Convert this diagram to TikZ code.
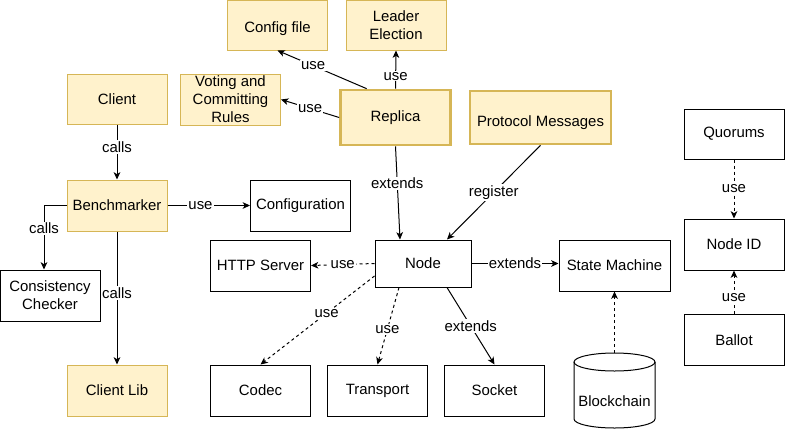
\documentclass[tikz,border=0pt]{standalone}
\usepackage{fontspec}
\setmainfont{Liberation Sans}
\usepackage{tikz}
\usetikzlibrary{arrows.meta, positioning, calc}
\definecolor{paxiFill}{HTML}{FFF2CC}
\definecolor{paxiLine}{HTML}{D6B656}

\begin{document}
\begin{tikzpicture}[x=0.75pt, y=-0.75pt,
    every node/.style={font=\fontsize{11.2}{13.5}\selectfont, align=center},
    module/.style={rectangle, draw=black, line width=0.75pt, fill=white,
                   minimum width=75pt, minimum height=38.25pt, inner sep=1pt},
    core/.style={module, draw=paxiLine, fill=paxiFill},
    corebold/.style={core, line width=2pt},
    link/.style={draw=black, line width=0.75pt, -{Stealth[length=5.5pt, width=5pt, inset=1.5pt]}},
    weak/.style={link, dash pattern=on 2.25pt off 2.25pt},
    tag/.style={fill=white, inner sep=1pt}]
\useasboundingbox (0,0) rectangle (785,429);

\node[core, minimum height=37.5pt, text height=11pt, text depth=0pt] (config) at (277.5,25) {Config file};
\node[core, minimum height=37.5pt] (leader) at (396,25) {Leader\\Election};
\node[core] (voting) at (230.5,99.5) {Voting and\\Committing\\Rules};
\node[corebold, minimum width=82.5pt, minimum height=41.25pt] (replica) at (395.5,117.5) {Replica};
\node[corebold, minimum width=105.75pt, minimum height=39.75pt, text height=13pt, text depth=0pt] (protocol) at (540.5,117.5) {Protocol Messages};
\node[core, minimum height=37.5pt] (client) at (117,99) {Client};
\node[core] (bench) at (117,205.5) {Benchmarker};
\node[module] (checker) at (50,295.5) {Consistency\\Checker};
\node[core] (clientlib) at (117,390.5) {Client Lib};
\node[module] (configuration) at (300.5,205.5) {Configuration};
\node[module] (http) at (260.5,265.5) {HTTP Server};
\node[module, minimum width=72pt, minimum height=35.25pt] (node) at (423,263.5) {Node};
\node[module] (codec) at (260.5,390.5) {Codec};
\node[module] (transport) at (377.5,390.5) {Transport};
\node[module] (socket) at (494.5,390.5) {Socket};
\node[module, minimum width=83.25pt] (machine) at (614.5,265.5) {State Machine};
\node[module, minimum height=37.5pt] (quorums) at (734,134) {Quorums};
\node[module] (nodeid) at (734,244.5) {Node ID};
\node[module] (ballot) at (734,340) {Ballot};

\draw[line width=0.75pt, fill=white] (574,362) -- (574,419)
    arc[start angle=180, end angle=0, x radius=40.5, y radius=9] -- (655,362);
\draw[line width=0.75pt] (614.5,362) ellipse[x radius=40.5, y radius=9];
\node (chain) at (614.5,401) {Blockchain};
\coordinate (chaintop) at (614.5,353);

\draw[link] (replica.135) -- node[tag, pos=.6] {use} (config.south);
\draw[link] (replica.north) -- node[tag, pos=.33] {use} (leader.south);
\draw[link] (replica.west) -- node[tag] {use} (voting.east);
\draw[link] (replica.south) -- node[tag, pos=.4] {extends} ($(node.north)+(-23,0)$);
\draw[link] (protocol.south) -- node[tag] {register} ($(node.north)+(24,0)$);

\draw[link] (client.south) -- node[tag, pos=.41] {calls} (bench.north);
\draw[link] (bench.west) -| node[tag, pos=.68] {calls} ($(checker.north)+(-6,0)$);
\draw[link] (bench.south) -- node[tag, pos=.46] {calls} (clientlib.north);
\draw[link] (bench.east) -- node[tag, pos=.4] {use} (configuration.west);

\draw[weak] (node.west) -- node[tag] {use} (http.east);
\draw[weak] ($(node.west)+(0,12.5)$) -- node[tag, pos=.42] {use} (codec.north);
\draw[weak] ($(node.south)+(-24,0)$) -- node[tag, pos=.54] {use} (transport.north);
\draw[link] ($(node.south)+(24,0)$) -- node[tag] {extends} (socket.north);
\draw[link] (node.east) -- node[tag] {extends} (node.east -| machine.west);
\draw[weak] (chaintop) -- (machine.south);

\draw[weak] (quorums.south) -- node[tag] {use} (nodeid.north);
\draw[weak] (ballot.north) -- node[tag, pos=.38] {use} (nodeid.south);
\end{tikzpicture}
\end{document}
